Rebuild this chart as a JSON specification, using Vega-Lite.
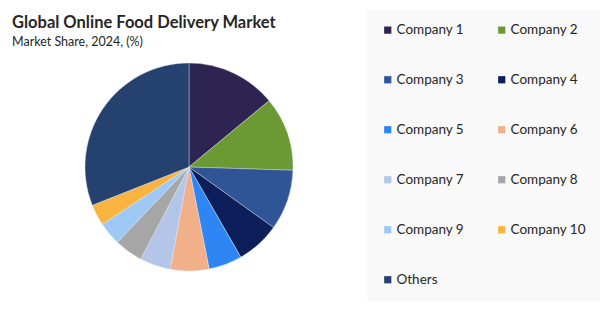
{
  "$schema": "https://vega.github.io/schema/vega-lite/v6.json",
  "autosize": "none",
  "width": 378,
  "height": 244,
  "padding": {"left": 0, "top": 45, "right": 222, "bottom": 23},
  "background": "white",
  "title": {
    "text": "Global Online Food Delivery Market",
    "subtitle": "Market Share, 2024, (%)",
    "anchor": "start",
    "frame": "group",
    "dx": 12,
    "offset": -39,
    "font": "Lato",
    "fontSize": 16.5,
    "fontWeight": "bold",
    "color": "#262626",
    "subtitleFont": "Lato",
    "subtitleFontSize": 12.5,
    "subtitleColor": "#262626",
    "subtitlePadding": 4
  },
  "data": {
    "values": [
      {"company": "Company 1", "share": 14.0, "rank": 1},
      {"company": "Company 2", "share": 11.5, "rank": 2},
      {"company": "Company 3", "share": 9.4, "rank": 3},
      {"company": "Company 4", "share": 6.8, "rank": 4},
      {"company": "Company 5", "share": 5.2, "rank": 5},
      {"company": "Company 6", "share": 6.0, "rank": 6},
      {"company": "Company 7", "share": 4.8, "rank": 7},
      {"company": "Company 8", "share": 4.4, "rank": 8},
      {"company": "Company 9", "share": 3.6, "rank": 9},
      {"company": "Company 10", "share": 3.3, "rank": 10},
      {"company": "Others", "share": 31.0, "rank": 11}
    ]
  },
  "mark": {"type": "arc", "outerRadius": 104, "stroke": "#e8e8f0", "strokeWidth": 0.4},
  "encoding": {
    "theta": {"field": "share", "type": "quantitative", "stack": true},
    "order": {"field": "rank", "type": "quantitative"},
    "color": {
      "field": "company",
      "type": "nominal",
      "scale": {
        "domain": ["Company 1", "Company 2", "Company 3", "Company 4", "Company 5", "Company 6", "Company 7", "Company 8", "Company 9", "Company 10", "Others"],
        "range": ["#2e2451", "#6b9a34", "#2f5597", "#0d1f5b", "#2e86f5", "#f2b08a", "#b4c6e7", "#a6a6a6", "#9ec9f7", "#f9b43f", "#24416f"]
      },
      "legend": {
        "title": null,
        "orient": "none",
        "direction": "horizontal",
        "legendX": 367,
        "legendY": -36,
        "columns": 2,
        "symbolType": "square",
        "symbolSize": 52,
        "symbolStrokeWidth": 0,
        "labelFont": "Lato",
        "labelFontSize": 13.5,
        "labelColor": "#262626",
        "labelOffset": 2,
        "rowPadding": 35,
        "columnPadding": 30,
        "padding": 14,
        "fillColor": "#f9f9f9"
      }
    }
  },
  "config": {"view": {"stroke": null}}
}
